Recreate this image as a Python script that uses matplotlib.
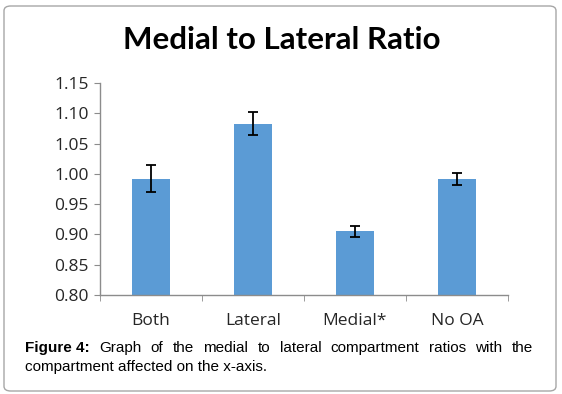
import matplotlib.pyplot as plt
from matplotlib.patches import FancyBboxPatch
from matplotlib.ticker import FixedLocator

# Data
categories = ["Both", "Lateral", "Medial*", "No OA"]
ratios = [0.992, 1.083, 0.905, 0.992]
errors = [0.022, 0.019, 0.009, 0.010]
y_ticks = [0.80, 0.85, 0.90, 0.95, 1.00, 1.05, 1.10, 1.15]

caption_bold = "Figure 4:"
caption_line1 = "Graph of the medial to lateral compartment ratios with the"
caption_line2 = "compartment affected on the x-axis."

W, H = 562, 394
fig = plt.figure(figsize=(W / 100, H / 100), dpi=100)
fig.patch.set_facecolor("white")

# outer rounded frame
frame = FancyBboxPatch((4 / W, 3 / H), 552 / W, 385 / H,
                       boxstyle="round,pad=0,rounding_size=0.012",
                       transform=fig.transFigure, fill=False,
                       edgecolor="#a6a6a6", linewidth=1.0)
fig.add_artist(frame)

# axes: x 100..508 px, y 83..295 px (from top)
ax = fig.add_axes([100 / W, (H - 295) / H, 408 / W, 212 / H])
x = list(range(len(categories)))
ax.bar(x, ratios, width=0.38, color="#5b9bd5", zorder=2)
ax.errorbar(x, ratios, yerr=errors, fmt="none", ecolor="black",
            elinewidth=1.3, capsize=3.5, capthick=1.3, zorder=3)

ax.set_xlim(-0.5, len(categories) - 0.5)
ax.set_ylim(0.80, 1.15)
ax.set_yticks(y_ticks)
ax.set_yticklabels([f"{v:.2f}" for v in y_ticks])
ax.set_xticks(x)
ax.set_xticklabels(categories)
ax.xaxis.set_minor_locator(FixedLocator([i - 0.5 for i in range(len(categories) + 1)]))
ax.tick_params(axis="x", which="major", length=0, pad=13)
ax.tick_params(axis="x", which="minor", length=4, color="#8c8c8c", direction="out")
ax.tick_params(axis="y", length=4, color="#8c8c8c", pad=4)
for lbl in ax.get_xticklabels() + ax.get_yticklabels():
    lbl.set_fontfamily("Open Sans")
    lbl.set_fontsize(12.5)
    lbl.set_color("#262626")

for side in ["top", "right"]:
    ax.spines[side].set_visible(False)
for side in ["left", "bottom"]:
    ax.spines[side].set_color("#8c8c8c")
    ax.spines[side].set_linewidth(1.0)

fig.text(282 / W, 1 - 40 / H, "Medial to Lateral Ratio", ha="center", va="center",
         fontsize=22.5, fontweight="bold", family="Lato", color="black")

# caption, line 1 justified between x=25 and x=533
renderer = fig.canvas.get_renderer()
words = [(caption_bold, "bold")] + [(w, "normal") for w in caption_line1.split()]
y1 = 1 - 348 / H
texts = []
for w, wt in words:
    t = fig.text(0, y1, w, fontsize=11, family="Liberation Sans",
                 fontweight=wt, va="center", ha="left")
    texts.append(t)
widths = [t.get_window_extent(renderer).width for t in texts]
left, right = 25, 533
gap = (right - left - sum(widths)) / (len(texts) - 1)
pos = left
for t, wd in zip(texts, widths):
    t.set_x(pos / W)
    pos += wd + gap

fig.text(25 / W, 1 - 367 / H, caption_line2, fontsize=11, family="Liberation Sans",
         va="center", ha="left")

fig.savefig("out.png", dpi=100)
